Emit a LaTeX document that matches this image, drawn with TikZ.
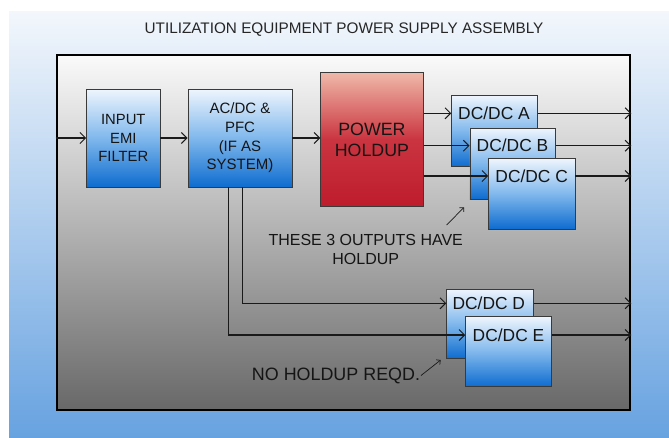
\documentclass[tikz,border=0pt]{standalone}
\usepackage{fontspec}
\setmainfont{Liberation Sans}
\usetikzlibrary{arrows.meta,calc}
\definecolor{bgtop}{HTML}{F3F7FC}
\definecolor{bgbot}{HTML}{67A2E0}
\definecolor{frtop}{HTML}{FAFAFA}
\definecolor{frmid}{HTML}{C0C0C0}
\definecolor{frbot}{HTML}{686868}
\definecolor{btop}{HTML}{EEF5FD}
\definecolor{bmid}{HTML}{80B8EC}
\definecolor{bbot}{HTML}{0E6CCF}
\definecolor{rtop}{HTML}{EFB8A8}
\definecolor{rmid}{HTML}{CA3440}
\definecolor{rbot}{HTML}{BE1C2C}
\definecolor{ink}{HTML}{151515}
\definecolor{edge}{HTML}{3A3A3A}
\definecolor{wire}{HTML}{1A1A1A}
\begin{document}
\begin{tikzpicture}[x=1pt,y=-1pt,
  box/.style={draw=edge, line width=0.9pt, inner sep=0pt, align=center, text=ink},
  bluebox/.style={box, top color=btop, bottom color=bbot, middle color=bmid},
  redbox/.style={box, top color=rtop, bottom color=rbot, middle color=rmid},
  dclab/.style={inner sep=0pt, text=ink, font=\fontsize{17.4}{20}\selectfont, text height=12.5pt, text depth=0pt},
  conn/.style={draw=wire, line width=1.1pt, -{Straight Barb[length=5.5pt,width=11pt,line width=1pt]}},
  pointer/.style={draw=wire, line width=0.7pt, -{Straight Barb[length=3pt,width=6pt,line width=0.7pt]}},
  note/.style={inner sep=0pt, text=ink, align=center}
]
\useasboundingbox (0,0) rectangle (669,437);
\fill[white] (0,0) rectangle (669,437);
\fill[top color=bgtop, bottom color=bgbot] (9,11) rectangle (669,437);

\node[note, font=\fontsize{15.3}{18}\selectfont, text=black!85] (title) at (344,30) {UTILIZATION EQUIPMENT POWER SUPPLY ASSEMBLY};

\node[draw=black, line width=2.6pt, inner sep=0pt, minimum width=573pt, minimum height=355pt,
  top color=frtop, middle color=frmid, bottom color=frbot] (frame) at (343.5,232.5) {};

% main chain
\node[bluebox, minimum width=73.3pt, minimum height=98pt, font=\fontsize{14.8}{18.7}\selectfont] (emi) at (123.3,138) {INPUT\\EMI\\FILTER};
\node[bluebox, minimum width=104pt, minimum height=98pt, font=\fontsize{15}{18.6}\selectfont] (acdc) at (240,138) {AC/DC \&\\PFC\\(IF AS\\SYSTEM)};
\node[redbox, minimum width=102.3pt, minimum height=134pt, font=\fontsize{17.8}{21}\selectfont] (hold) at (371.9,139.7) {POWER\\HOLDUP};

% DC/DC with holdup
\node[bluebox, minimum width=86pt, minimum height=71pt] (a) at (494.7,131.2) {};
\node[dclab] (alab) at (494,113.3) {DC/DC A};
\node[bluebox, minimum width=85.7pt, minimum height=71pt] (b) at (512.8,163.5) {};
\node[dclab] (blab) at (512.5,145.7) {DC/DC B};
\node[bluebox, minimum width=86.3pt, minimum height=70.3pt] (c) at (531.8,193.8) {};
\node[dclab] (clab) at (531.7,176) {DC/DC C};

% DC/DC without holdup
\node[bluebox, minimum width=86.6pt, minimum height=69.3pt] (d) at (490,323.7) {};
\node[dclab] (dlab) at (488.8,303.3) {DC/DC D};
\node[bluebox, minimum width=86pt, minimum height=70pt] (e) at (508.7,351.7) {};
\node[dclab] (elab) at (508.5,335) {DC/DC E};

% connectors
\draw[conn] (frame.west |- emi) -- (emi.west);
\draw[conn] (emi.east) -- (acdc.west);
\draw[conn] (acdc.east) -- (acdc.east -| hold.west);
\draw[conn] (hold.east |- alab) -- (alab -| a.west);
\draw[conn] (hold.east |- blab) -- (blab -| b.west);
\draw[conn] (hold.east |- clab) -- (clab -| c.west);
\draw[conn] (alab -| a.east) -- (alab -| frame.east);
\draw[conn] (blab -| b.east) -- (blab -| frame.east);
\draw[conn] (clab -| c.east) -- (clab -| frame.east);

\coordinate (dx) at (242.3,0);
\coordinate (ex) at (228.5,0);
\draw[conn] (acdc.south -| dx) -- (dx |- dlab) -- (dlab -| d.west);
\draw[conn] (acdc.south -| ex) -- (ex |- elab) -- (elab -| e.west);
\draw[conn] (dlab -| d.east) -- (dlab -| frame.east);
\draw[conn] (elab -| e.east) -- (elab -| frame.east);

% notes
\node[note, font=\fontsize{16}{19}\selectfont] (n1) at (365.7,249) {THESE 3 OUTPUTS HAVE\\HOLDUP};
\coordinate (p1s) at (446.7,225);
\coordinate (p1e) at (464,207.3);
\draw[pointer] (p1s) -- (p1e);

\node[note, font=\fontsize{17.9}{20}\selectfont] (n2) at (336,376) {NO HOLDUP REQD.};
\coordinate (p2s) at (421,375.5);
\coordinate (p2e) at (440.7,360);
\draw[pointer] (p2s) -- (p2e);
\end{tikzpicture}
\end{document}
